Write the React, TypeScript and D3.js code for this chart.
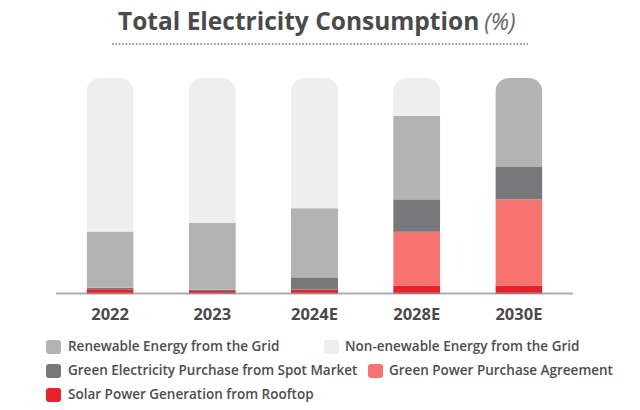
import React from "react";
import * as d3 from "d3";

const years = ["2022", "2023", "2024E", "2028E", "2030E"];
const solarRooftop = [2.2, 1.4, 2.0, 3.8, 3.8];
const greenPPA = [0, 0, 0, 25, 40];
const spotMarket = [0.7, 0.6, 5.7, 15, 15];
const renewableGrid = [26, 31, 32, 38.6, 41.2];
const nonRenewableGrid = [71.1, 67, 60.3, 17.6, 0];

const seriesKeys = ["solar", "ppa", "spot", "renew", "nonrenew"];
const seriesColors: Record<string, string> = {
  solar: "#e8202a",
  ppa: "#f7736f",
  spot: "#78787a",
  renew: "#b3b3b3",
  nonrenew: "#eeeeee",
};

const legendItems = [
  { key: "renew", label: "Renewable Energy from the Grid", col: 0, row: 0 },
  { key: "nonrenew", label: "Non-enewable Energy from the Grid", col: 1, row: 0 },
  { key: "spot", label: "Green Electricity Purchase from Spot Market", col: 0, row: 1 },
  { key: "ppa", label: "Green Power Purchase Agreement", col: 2, row: 1 },
  { key: "solar", label: "Solar Power Generation from Rooftop", col: 0, row: 2 },
];

const W = 640;
const H = 410;
const FONT = "'Open Sans', 'Noto Sans', sans-serif";

export default function App() {
  const table = years.map((y, i) => ({
    year: y,
    solar: solarRooftop[i],
    ppa: greenPPA[i],
    spot: spotMarket[i],
    renew: renewableGrid[i],
    nonrenew: nonRenewableGrid[i],
  }));
  const stack = d3.stack<any>().keys(seriesKeys);
  const layers = stack(table);

  const x = d3
    .scaleBand<string>()
    .domain(years)
    .range([59, 570])
    .paddingInner(0.54)
    .paddingOuter(0.27);
  const y = d3.scaleLinear().domain([0, 100]).range([294, 78]);
  const bw = x.bandwidth();
  const r = 14;

  const clipPath = (left: number) => {
    const top = y(100);
    const bottom = y(0);
    const p = d3.path();
    p.moveTo(left, bottom);
    p.lineTo(left, top + r);
    p.arcTo(left, top, left + r, top, r);
    p.lineTo(left + bw - r, top);
    p.arcTo(left + bw, top, left + bw, top + r, r);
    p.lineTo(left + bw, bottom);
    p.closePath();
    return p.toString();
  };

  const legendX = [46, 324, 368];
  const legendTextX = [68, 345, 389];
  const legendY = [340, 364, 388];

  return (
    <svg
      width={W}
      height={H}
      style={{ position: "absolute", left: 0, top: 0, background: "#fff" }}
      fontFamily={FONT}
    >
      <defs>
        {years.map((yr, i) => (
          <clipPath id={`clip-${i}`} key={yr}>
            <path d={clipPath(x(yr) as number)} />
          </clipPath>
        ))}
      </defs>

      <text x={118} y={30} fontSize={24.5} fill="#4a4a4a" fontWeight={700}>
        Total Electricity Consumption
        <tspan dx={5} fontStyle="italic" fontWeight={400} fill="#666" fontSize={23}>
          (%)
        </tspan>
      </text>
      <line
        x1={112}
        x2={528}
        y1={44}
        y2={44}
        stroke="#777"
        strokeWidth={1.6}
        strokeDasharray="1.6,1.8"
      />

      {years.map((yr, i) => (
        <g key={yr} clipPath={`url(#clip-${i})`}>
          {layers.map((layer) => {
            const d = layer[i];
            const h = y(d[0]) - y(d[1]);
            if (h <= 0) return null;
            return (
              <rect
                key={layer.key}
                x={x(yr)}
                y={y(d[1])}
                width={bw}
                height={h}
                fill={seriesColors[layer.key]}
              />
            );
          })}
        </g>
      ))}

      <line x1={56} x2={573} y1={293.5} y2={293.5} stroke="#999" strokeOpacity={0.8} strokeWidth={2} />

      {years.map((yr) => (
        <text
          key={yr}
          x={(x(yr) as number) + bw / 2}
          y={320}
          textAnchor="middle"
          fontSize={16.5}
          fontWeight={700}
          fill="#4a4a4a"
        >
          {yr}
        </text>
      ))}

      {legendItems.map((it) => (
        <g key={it.key}>
          <rect
            x={legendX[it.col]}
            y={legendY[it.row]}
            width={15}
            height={14}
            rx={3}
            fill={seriesColors[it.key]}
          />
          <text
            x={legendTextX[it.col]}
            y={legendY[it.row] + 11}
            fontSize={13.5}
            fontWeight={600}
            fill="#4d4d4d"
          >
            {it.label}
          </text>
        </g>
      ))}
    </svg>
  );
}
